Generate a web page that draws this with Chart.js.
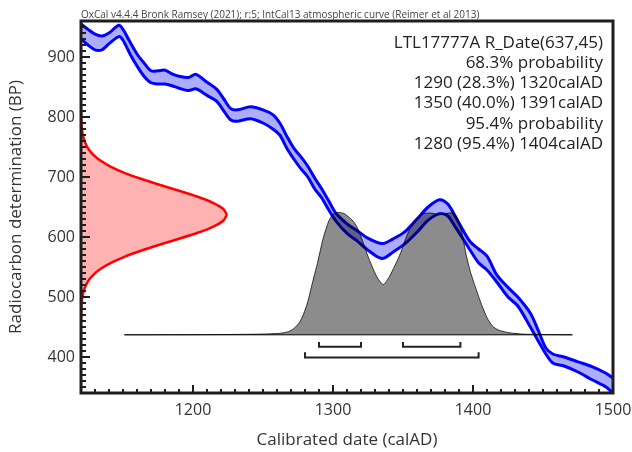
<!DOCTYPE html>
<html>
<head>
<meta charset="utf-8">
<script src="https://cdn.jsdelivr.net/npm/chart.js@4.4.0/dist/chart.umd.min.js"></script>
<style>
html, body { margin: 0; padding: 0; background: #fff; }
</style>
</head>
<body>
<canvas id="myChart" width="632" height="452"></canvas>
<script>
// IntCal13 curve, upper and lower edge of the band (BP)
const curveYears = [1120, 1125, 1130, 1135, 1140, 1147, 1150, 1155, 1160, 1165, 1170, 1175, 1180, 1185, 1190, 1197, 1202, 1210, 1217, 1222, 1227, 1232, 1241, 1250, 1257, 1262, 1267, 1272, 1277, 1282, 1287, 1292, 1297, 1302, 1310, 1317, 1325, 1335, 1343, 1351, 1360, 1368, 1376, 1382, 1387, 1392, 1398, 1404, 1410, 1417, 1425, 1432, 1441, 1447, 1452, 1457, 1465, 1475, 1485, 1495, 1500];
const curveUpper = [955, 946, 938, 935, 940, 953, 946, 925, 905, 890, 877, 877, 878, 872, 868, 866, 871, 858, 846, 830, 814, 812, 817, 812, 804, 790, 768, 748, 734, 718, 698, 680, 660, 640, 622, 611, 598, 589, 597, 608, 630, 650, 662, 655, 636, 615, 592, 580, 568, 537, 516, 500, 473, 442, 415, 405, 400, 392, 384, 373, 365];
const curveLower = [930, 920, 912, 912, 922, 934, 928, 905, 885, 868, 857, 855, 855, 852, 848, 844, 847, 836, 826, 810, 795, 793, 797, 790, 780, 770, 748, 730, 714, 700, 680, 665, 645, 627, 606, 594, 578, 564, 575, 588, 608, 628, 639, 635, 618, 600, 578, 557, 545, 525, 500, 485, 450, 425, 405, 390, 385, 375, 362, 350, 340];

// R_Date(637,45) drawn against the y axis: BP and width in years
const dateBP = [817, 807, 797, 787, 777, 767, 757, 747, 737, 727, 717, 707, 697, 687, 677, 667, 657, 647, 637, 627, 617, 607, 597, 587, 577, 567, 557, 547, 537, 527, 517, 507, 497, 487, 477, 467, 457];
const dateWidth = [0, 0.1, 0.2, 0.4, 0.8, 1.6, 3, 5.2, 8.8, 14.1, 21.4, 31, 42.8, 56, 70, 83.3, 94.2, 101.5, 104, 101.5, 94.2, 83.3, 70, 56, 42.8, 31, 21.4, 14.1, 8.8, 5.2, 3, 1.6, 0.8, 0.4, 0.2, 0.1, 0];

// calibrated date distribution (relative probability)
const calYears = [1151, 1200, 1230, 1250, 1262, 1268, 1272, 1276, 1279, 1282, 1285, 1289, 1293, 1297, 1300, 1304, 1308, 1312, 1315, 1318, 1321, 1325, 1329, 1332, 1336, 1340, 1344, 1348, 1352, 1356, 1360, 1365, 1370, 1376, 1380, 1386, 1389, 1392, 1395, 1398, 1402, 1406, 1410, 1414, 1418, 1425, 1435, 1450, 1471];
const calProb = [0, 0.001, 0.003, 0.006, 0.012, 0.025, 0.05, 0.1, 0.17, 0.27, 0.41, 0.59, 0.79, 0.93, 0.985, 1, 0.99, 0.955, 0.92, 0.86, 0.77, 0.64, 0.53, 0.46, 0.41, 0.47, 0.56, 0.66, 0.79, 0.89, 0.95, 0.99, 0.995, 0.98, 0.99, 0.995, 0.95, 0.84, 0.66, 0.52, 0.38, 0.25, 0.14, 0.07, 0.04, 0.018, 0.006, 0.002, 0];

// probability ranges
const range68 = [[1290, 1320], [1350, 1391]];
const range95 = [[1280, 1404]];

const xTicks = [1200, 1300, 1400, 1500];
const yTicks = [400, 500, 600, 700, 800, 900];

const infoLines = [
    "LTL17777A R_Date(637,45)",
    "68.3% probability",
    "1290 (28.3%) 1320calAD",
    "1350 (40.0%) 1391calAD",
    "95.4% probability",
    "1280 (95.4%) 1404calAD"
];
const headerText = "OxCal v4.4.4 Bronk Ramsey (2021); r:5; IntCal13 atmospheric curve (Reimer et al 2013)";

const xMin = 1120, xMax = 1500, yMin = 340, yMax = 960;
const calBase = 437;      // BP level of the distribution baseline
const calHeight = 204;    // BP height of the distribution peak
const FONT = "'Open Sans', 'Noto Sans', sans-serif";

// build the bracket datasets
function bracketData(ranges, top, bottom) {
    let pts = [];
    ranges.forEach(function (r, i) {
        if (i > 0) pts.push({ x: null, y: null });
        pts.push({ x: r[0], y: top }, { x: r[0], y: bottom }, { x: r[1], y: bottom }, { x: r[1], y: top });
    });
    return pts;
}

// frame, inward ticks and text
const framePlugin = {
    id: 'frame',
    afterDraw(chart) {
        const ctx = chart.ctx;
        const a = chart.chartArea;
        const xs = chart.scales.x, ys = chart.scales.y;
        ctx.save();
        ctx.strokeStyle = '#1e1e1e';
        ctx.lineWidth = 2;
        ctx.beginPath();
        for (let v = 1130; v < xMax; v += 10) {
            const px = Math.round(xs.getPixelForValue(v));
            const len = v % 100 === 0 ? 8 : 4;
            ctx.moveTo(px, a.bottom);
            ctx.lineTo(px, a.bottom - len);
        }
        for (let v = 350; v < yMax; v += 10) {
            const py = Math.round(ys.getPixelForValue(v));
            const len = v % 100 === 0 ? 9 : 5;
            ctx.moveTo(a.left, py);
            ctx.lineTo(a.left + len, py);
        }
        ctx.stroke();
        ctx.lineWidth = 3;
        ctx.strokeRect(a.left, a.top, a.right - a.left, a.bottom - a.top);

        ctx.fillStyle = '#444';
        ctx.font = "10px " + FONT;
        ctx.textAlign = 'left';
        ctx.textBaseline = 'alphabetic';
        ctx.fillText(headerText, a.left, 18);

        ctx.fillStyle = '#222';
        ctx.font = "17px " + FONT;
        ctx.textAlign = 'right';
        ctx.textBaseline = 'middle';
        infoLines.forEach(function (t, i) {
            ctx.fillText(t, 603, 43 + i * 20.2);
        });
        ctx.restore();
    }
};

const ctx = document.getElementById('myChart').getContext('2d');

const myChart = new Chart(ctx, {
    type: 'scatter',
    data: {
        datasets: [{
            // upper edge of curve, filled down to the lower edge
            data: curveYears.map((x, i) => ({ x: x, y: curveUpper[i] })),
            showLine: true,
            borderColor: '#0000ff',
            borderWidth: 3,
            backgroundColor: 'rgba(0, 0, 255, 0.32)',
            fill: '+1',
            tension: 0.3,
            pointRadius: 0,
            order: 6
        },
        {
            data: curveYears.map((x, i) => ({ x: x, y: curveLower[i] })),
            showLine: true,
            borderColor: '#0000ff',
            borderWidth: 3,
            fill: false,
            tension: 0.3,
            pointRadius: 0,
            order: 5
        },
        {
            // radiocarbon measurement on the y axis
            data: dateBP.map((b, i) => ({ x: xMin + dateWidth[i], y: b })),
            showLine: true,
            borderColor: '#ff0000',
            borderWidth: 2.5,
            backgroundColor: 'rgba(255, 0, 0, 0.3)',
            fill: 'shape',
            tension: 0.2,
            pointRadius: 0,
            order: 4
        },
        {
            // calibrated distribution
            data: calYears.map((x, i) => ({ x: x, y: calBase + calProb[i] * calHeight })),
            showLine: true,
            borderColor: 'rgba(0, 0, 0, 0.75)',
            borderWidth: 1,
            backgroundColor: 'rgba(0, 0, 0, 0.45)',
            fill: { value: calBase },
            tension: 0.2,
            pointRadius: 0,
            order: 3
        },
        {
            // baseline
            data: [{ x: 1151, y: calBase }, { x: 1471, y: calBase }],
            showLine: true,
            borderColor: '#000',
            borderWidth: 1,
            pointRadius: 0,
            order: 2
        },
        {
            data: bracketData(range68, 425, 417),
            showLine: true,
            spanGaps: false,
            borderColor: '#222',
            borderWidth: 2,
            pointRadius: 0,
            order: 1
        },
        {
            data: bracketData(range95, 408, 399),
            showLine: true,
            spanGaps: false,
            borderColor: '#222',
            borderWidth: 2,
            pointRadius: 0,
            order: 1
        }
        ]
    },
    options: {
        responsive: false,
        animation: false,
        layout: { padding: { top: 21, right: 19, left: 0, bottom: 0 } },
        plugins: {
            legend: { display: false },
            tooltip: { enabled: false }
        },
        scales: {
            x: {
                type: 'linear',
                min: xMin,
                max: xMax,
                grid: { display: false, drawTicks: false },
                border: { display: false },
                afterBuildTicks: function (s) { s.ticks = xTicks.map(v => ({ value: v })); },
                afterFit: function (s) { s.height = 59; s.paddingLeft = 0; s.paddingRight = 0; },
                ticks: {
                    padding: 8, maxRotation: 0, color: '#333', font: { family: FONT, size: 16 },
                    callback: function (v) { return String(v); }
                },
                title: {
                    display: true,
                    text: 'Calibrated date (calAD)',
                    color: '#333',
                    font: { family: FONT, size: 17 },
                    padding: { top: 0, bottom: 2 }
                }
            },
            y: {
                type: 'linear',
                min: yMin,
                max: yMax,
                grid: { display: false, drawTicks: false },
                border: { display: false },
                afterBuildTicks: function (s) { s.ticks = yTicks.map(v => ({ value: v })); },
                afterFit: function (s) { s.width = 81; s.paddingTop = 0; s.paddingBottom = 0; },
                ticks: {
                    padding: 6, color: '#333', font: { family: FONT, size: 16 },
                    callback: function (v) { return String(v); }
                },
                title: {
                    display: true,
                    text: 'Radiocarbon determination (BP)',
                    color: '#333',
                    font: { family: FONT, size: 17 },
                    padding: { top: 6, bottom: 0 }
                }
            }
        }
    },
    plugins: [framePlugin]
});
</script>
</body>
</html>
